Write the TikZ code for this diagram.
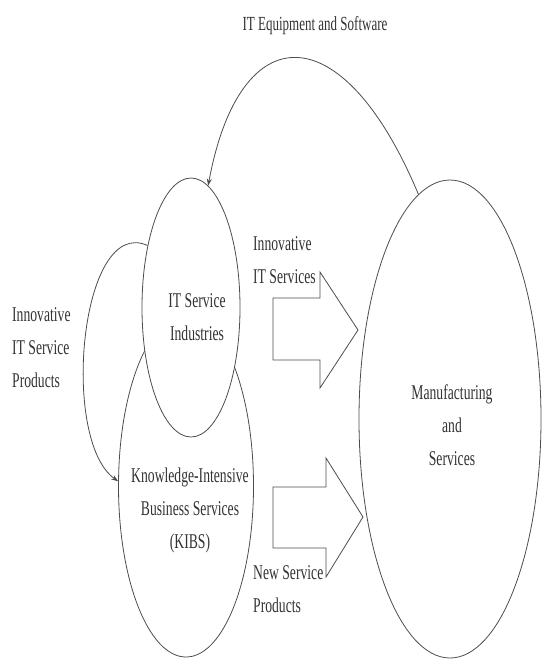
\documentclass[tikz,border=0pt]{standalone}
\usepackage{fontspec}
\setmainfont{Liberation Serif}[FakeStretch=0.65]
\usepackage{tikz}
\usetikzlibrary{shapes.geometric, arrows.meta}

\begin{document}
\begin{tikzpicture}[x=1pt, y=-1pt, every node/.style={text=black!80}]
  \tikzstyle{oval} = [draw=black!70, line width=0.8pt, ellipse, inner sep=0pt]
  \tikzstyle{lbl} = [inner sep=0pt, font=\fontsize{21}{33}\selectfont]
  \tikzstyle{flow} = [draw=black!70, line width=0.8pt]
  \useasboundingbox (0,0) rectangle (542,659);
  % the three sectors
  \node[oval, minimum width=135pt, minimum height=342pt] (kibs) at (186, 486) {};
  \node[oval, fill=white, minimum width=98pt, minimum height=259pt] (its) at (191, 307.5) {};
  \node[oval, minimum width=182pt, minimum height=478pt] (mfg) at (450, 419) {};
  \node[lbl, align=center] (itsl) at (197, 317) {IT Service\\Industries};
  \node[lbl, align=center] (kibsl) at (190, 510) {Knowledge-Intensive\\Business Services\\(KIBS)};
  \node[lbl, align=center] (mfgl) at (452, 425) {Manufacturing\\and\\Services};
  % flow labels
  \node[lbl, align=left, anchor=west] (prod) at (12, 348) {Innovative\\IT Service\\Products};
  \node[lbl, align=left, anchor=west] (itserv) at (253, 260) {Innovative\\IT Services};
  \node[lbl, align=left, anchor=west] (newserv) at (253, 589) {New Service\\Products};
  \node[lbl, font=\fontsize{20}{30}\selectfont] (equip) at (315, 26) {IT Equipment and Software};
  % curved flows
  \draw[flow, -{Stealth[length=7pt, width=5pt]}] (mfg.98) .. controls (343, 14) and (240, 14) .. (its.82);
  \draw[flow, -{Stealth[length=7pt, width=5pt]}] (its.125) .. controls (80, 215) and (60, 440) .. (kibs.176);
  % block arrows
  \draw[flow] (273, 298) -- (320, 298) -- (320, 272) -- (358, 330) -- (320, 388) -- (320, 360) -- (273, 360) -- cycle;
  \draw[flow] (273, 487) -- (326, 487) -- (326, 458) -- (363, 517) -- (326, 577) -- (326, 548) -- (273, 548) -- cycle;
\end{tikzpicture}
\end{document}
